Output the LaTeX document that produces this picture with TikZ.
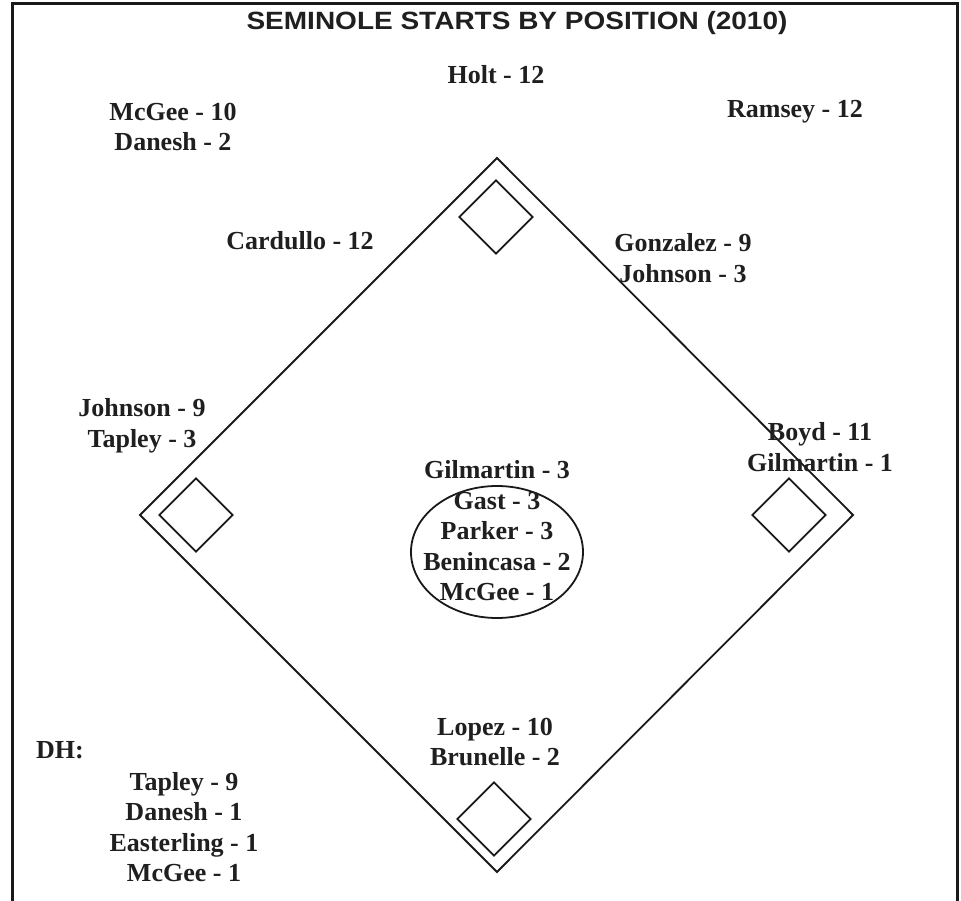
\documentclass[tikz,border=0pt]{standalone}
\usepackage{fontspec}
\setmainfont{Liberation Serif}
\newfontfamily\titlefont{Liberation Sans}
\usetikzlibrary{shapes.geometric}
\tikzset{
  lbl/.style={font=\bfseries\fontsize{26}{30.5}\selectfont, align=center, inner sep=0pt, text=black!88},
  field/.style={draw=black!90, line width=1.8pt},
  basebox/.style={draw=black!90, line width=1.8pt, shape=diamond, minimum width=74pt, minimum height=74pt, inner sep=0pt},
  frame/.style={draw=black!90, line width=3pt},
}
\begin{document}
\begin{tikzpicture}[x=1pt,y=-1pt]
\useasboundingbox (0,0) rectangle (961,901);
% frame
\coordinate (f1) at (12.5,901);
\coordinate (f2) at (12.5,4);
\coordinate (f3) at (957.5,4);
\coordinate (f4) at (957.5,901);
\draw[frame] (f1) -- (f2) -- (f3) -- (f4);
% title
\node[inner sep=0pt, text=black!88] (title) at (517,23) {\titlefont\bfseries\fontsize{25}{30}\selectfont\scalebox{1.12}[1]{SEMINOLE STARTS BY POSITION (2010)}};
% infield
\coordinate (second) at (497,158);
\coordinate (first) at (853,515);
\coordinate (home) at (497,872);
\coordinate (third) at (140,515);
\draw[field] (second) -- (first) -- (home) -- (third) -- cycle;
% bases
\node[basebox] (b2) at (496,217) {};
\node[basebox] (b3) at (196,515) {};
\node[basebox] (b1) at (789,515) {};
\node[basebox] (bh) at (494,819) {};
% mound
\node[draw=black!90, line width=1.8pt, ellipse, minimum width=172pt, minimum height=132pt, inner sep=0pt] (mound) at (497,552) {};
% labels
\node[lbl] (cf) at (496,75) {Holt - 12};
\node[lbl] (lf) at (173,127) {McGee - 10\\Danesh - 2};
\node[lbl] (rf) at (795,112) {Ramsey - 12};
\node[lbl] (ss) at (300,241) {Cardullo - 12};
\node[lbl] (sb) at (683,258) {Gonzalez - 9\\Johnson - 3};
\node[lbl] (tb) at (142,426) {Johnson - 9\\Tapley - 3};
\node[lbl] (fb) at (820,447) {Boyd - 11\\Gilmartin - 1};
\node[lbl] (p) at (497,531) {Gilmartin - 3\\Gast - 3\\Parker - 3\\Benincasa - 2\\McGee - 1};
\node[lbl] (c) at (495,742) {Lopez - 10\\Brunelle - 2};
\node[lbl, anchor=west] (dh) at (36,750) {DH:};
\node[lbl] (dhl) at (184,827) {Tapley - 9\\Danesh - 1\\Easterling - 1\\McGee - 1};
\end{tikzpicture}
\end{document}
